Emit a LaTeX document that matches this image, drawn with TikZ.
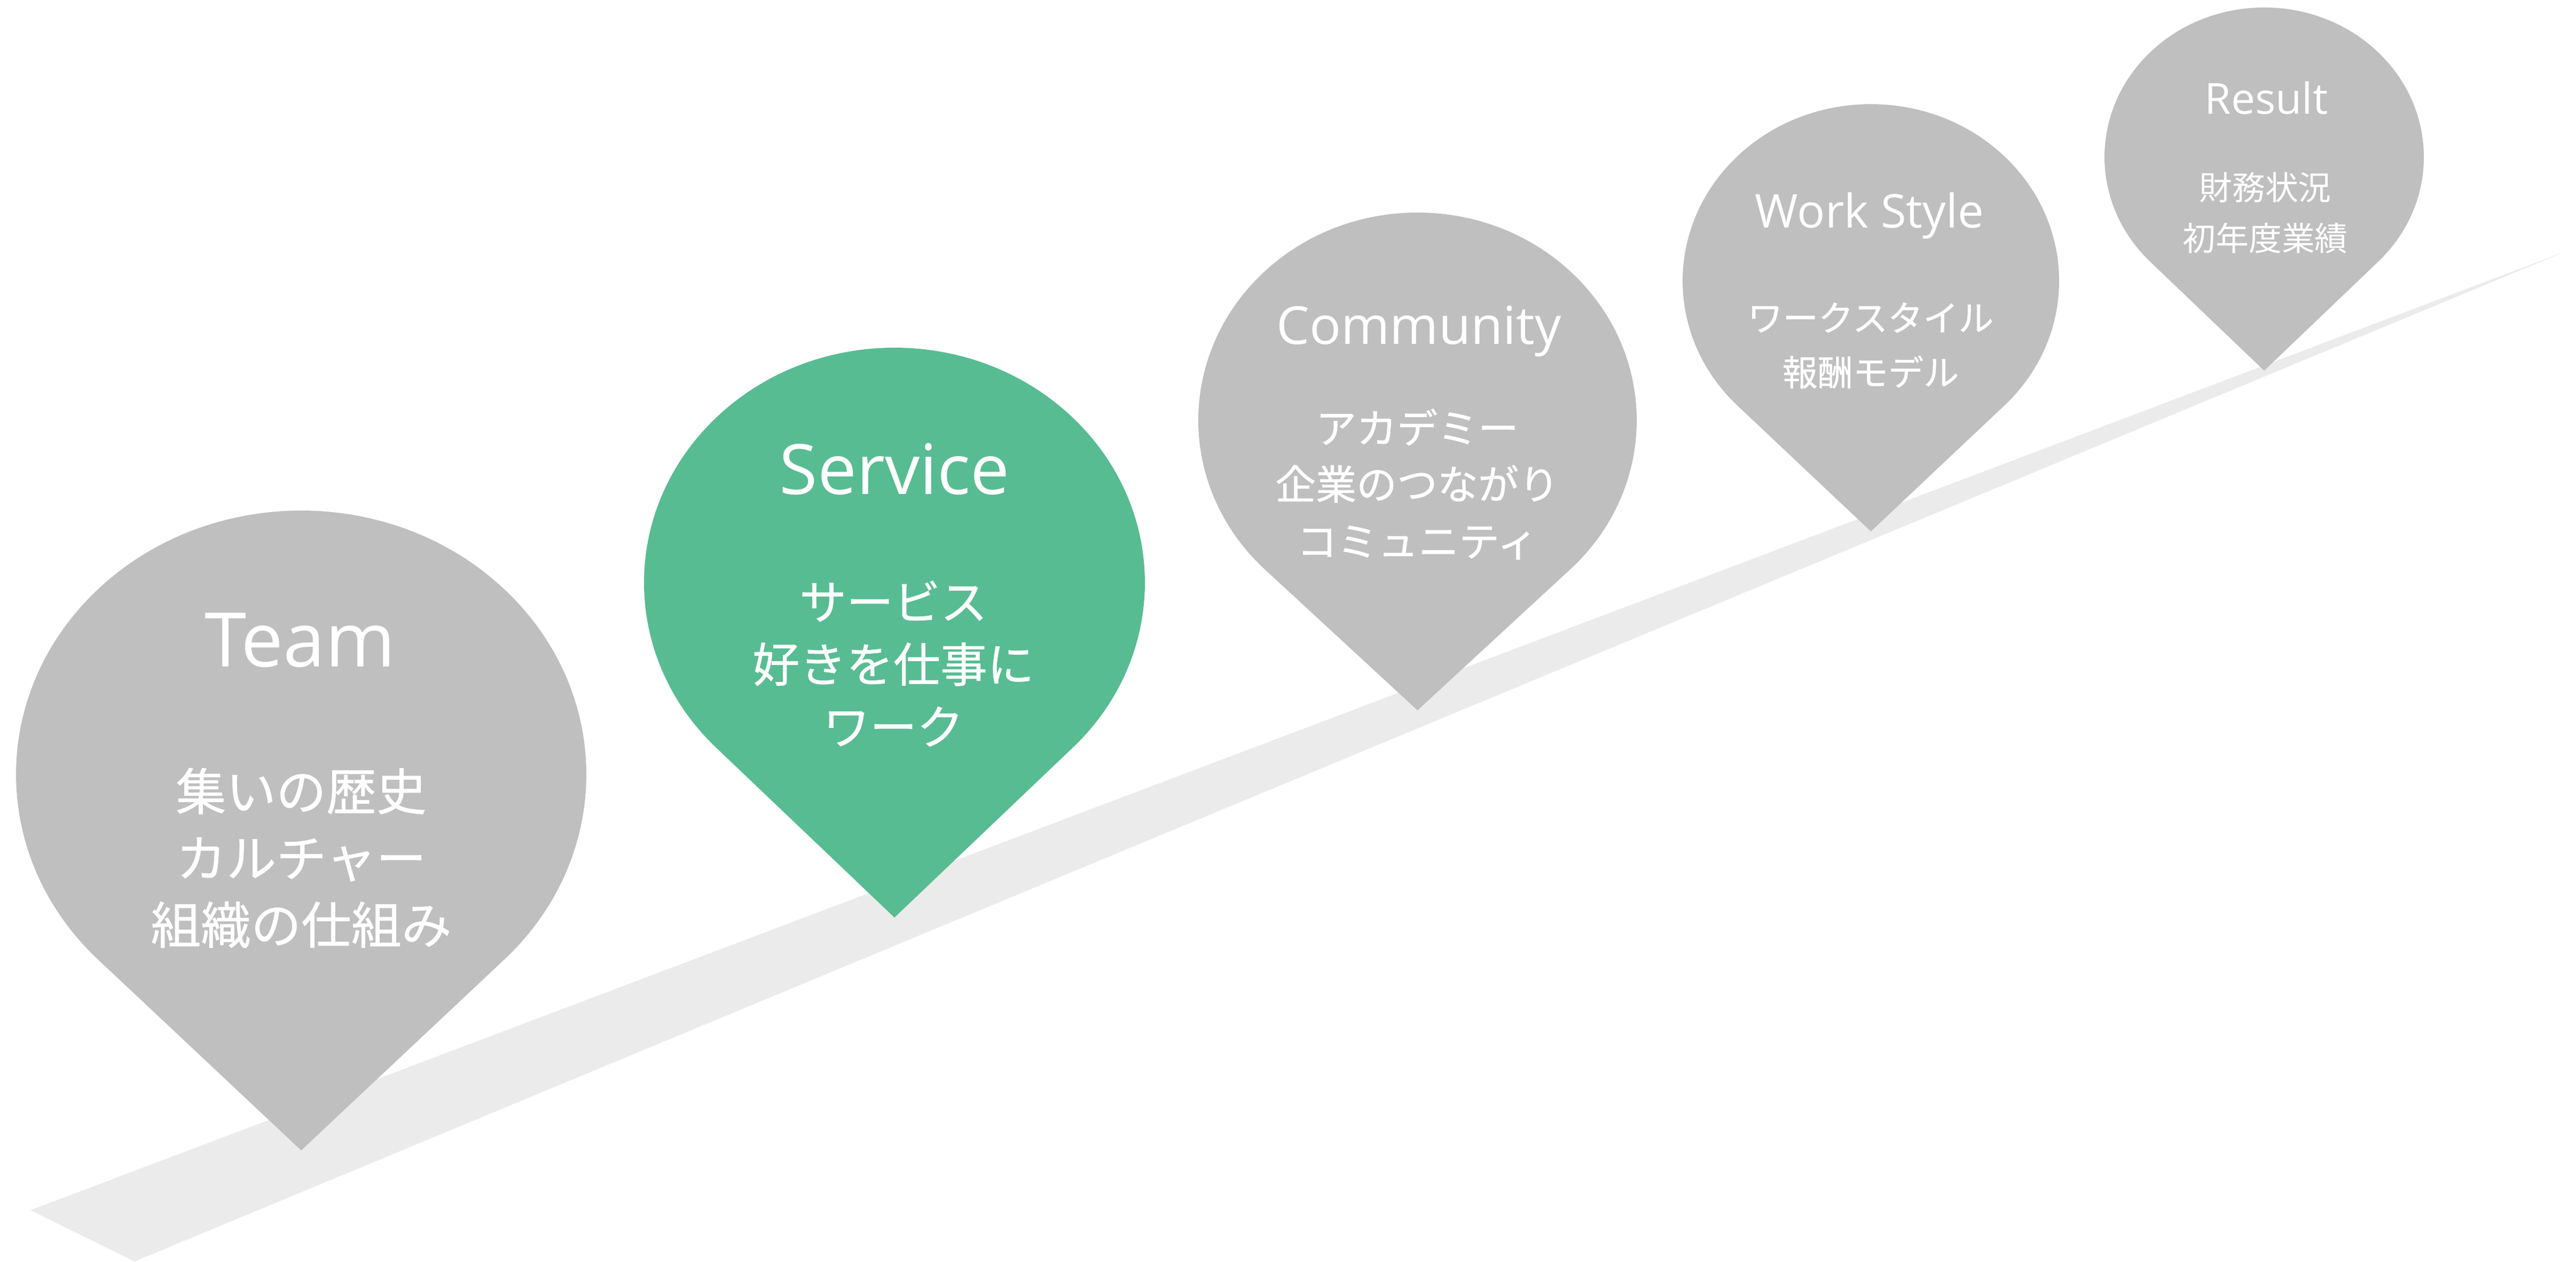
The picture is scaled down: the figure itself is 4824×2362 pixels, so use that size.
\documentclass[tikz,border=0pt]{standalone}
\usepackage{fontspec}
\setmainfont{Open Sans}
\newfontfamily\jpfont{Noto Sans CJK JP}
\newfontfamily\jpfontb[FakeBold=0.8]{Noto Sans CJK JP}
\definecolor{pingray}{HTML}{BFBFBF}
\definecolor{pingreen}{HTML}{58BC92}
\definecolor{roadgray}{HTML}{EBEBEB}
\newcommand{\drawpin}[6]{%
  \pgfmathsetmacro{\pinang}{asin(#4/(#2-#5))}%
  \pgfmathsetmacro{\pinxr}{#1+#3*cos(\pinang)}%
  \pgfmathsetmacro{\pinyr}{#2-#4*sin(\pinang)}%
  \fill[#6] (#1,#5) -- (\pinxr,\pinyr)
    arc[start angle=-\pinang, end angle=180+\pinang, x radius=#3, y radius=#4] -- cycle;
}
\tikzset{
  ttl/.style={text=white, inner sep=0pt, anchor=base},
  jp/.style={text=white, inner sep=0pt, anchor=base}
}
\begin{document}
\begin{tikzpicture}[x=0.01cm,y=0.01cm]
\useasboundingbox (0,0) rectangle (4824,2362);
% road
\fill[roadgray] (57,96) -- (4804,1891) -- (252,0) -- cycle;
% pins
\drawpin{564}{912}{534}{494}{208}{pingray}
\drawpin{1675}{1271}{469}{440}{644}{pingreen}
\drawpin{2654.5}{1575}{410.5}{389}{1032}{pingray}
\drawpin{3503.5}{1836}{352.5}{331}{1367}{pingray}
\drawpin{4240}{2068}{299}{280}{1668}{pingray}
% Team
\node[ttl, font=\fontsize{40.1pt}{48pt}\selectfont] (teamT) at (562,1114) {Team};
\node[jp, font=\jpfontb\fontsize{26.7pt}{32pt}\selectfont] (team1) at (564,845) {集いの歴史};
\node[jp, font=\jpfontb\fontsize{26.7pt}{32pt}\selectfont] (team2) at (564,720) {カルチャー};
\node[jp, font=\jpfontb\fontsize{26.7pt}{32pt}\selectfont] (team3) at (564,595) {組織の仕組み};
% Service
\node[ttl, font=\fontsize{37pt}{44pt}\selectfont] (servT) at (1675,1436) {Service};
\node[jp, font=\jpfontb\fontsize{25pt}{30pt}\selectfont] (serv1) at (1673,1202) {サービス};
\node[jp, font=\jpfontb\fontsize{25pt}{30pt}\selectfont] (serv2) at (1673,1085) {好きを仕事に};
\node[jp, font=\jpfontb\fontsize{25pt}{30pt}\selectfont] (serv3) at (1673,968) {ワーク};
% Community
\node[ttl, font=\fontsize{27.9pt}{34pt}\selectfont] (commT) at (2657,1717) {Community};
\node[jp, font=\jpfontb\fontsize{21.6pt}{26pt}\selectfont] (comm1) at (2654,1532) {アカデミー};
\node[jp, font=\jpfontb\fontsize{21.6pt}{26pt}\selectfont] (comm2) at (2654,1427) {企業のつながり};
\node[jp, font=\jpfontb\fontsize{21.6pt}{26pt}\selectfont] (comm3) at (2654,1320) {コミュニティ};
% Work Style
\node[ttl, font=\fontsize{24.75pt}{30pt}\selectfont] (wsT) at (3501,1935) {Work Style};
\node[jp, font=\jpfontb\fontsize{18.8pt}{23pt}\selectfont] (ws1) at (3503,1742) {ワークスタイル};
\node[jp, font=\jpfontb\fontsize{18.8pt}{23pt}\selectfont] (ws2) at (3503,1640) {報酬モデル};
% Result
\node[ttl, font=\fontsize{22.8pt}{27pt}\selectfont] (resT) at (4244,2148) {Result};
\node[jp, font=\jpfont\fontsize{17.6pt}{21pt}\selectfont] (res1) at (4242,1987) {財務状況};
\node[jp, font=\jpfont\fontsize{17.6pt}{21pt}\selectfont] (res2) at (4242,1892) {初年度業績};
\end{tikzpicture}
\end{document}
